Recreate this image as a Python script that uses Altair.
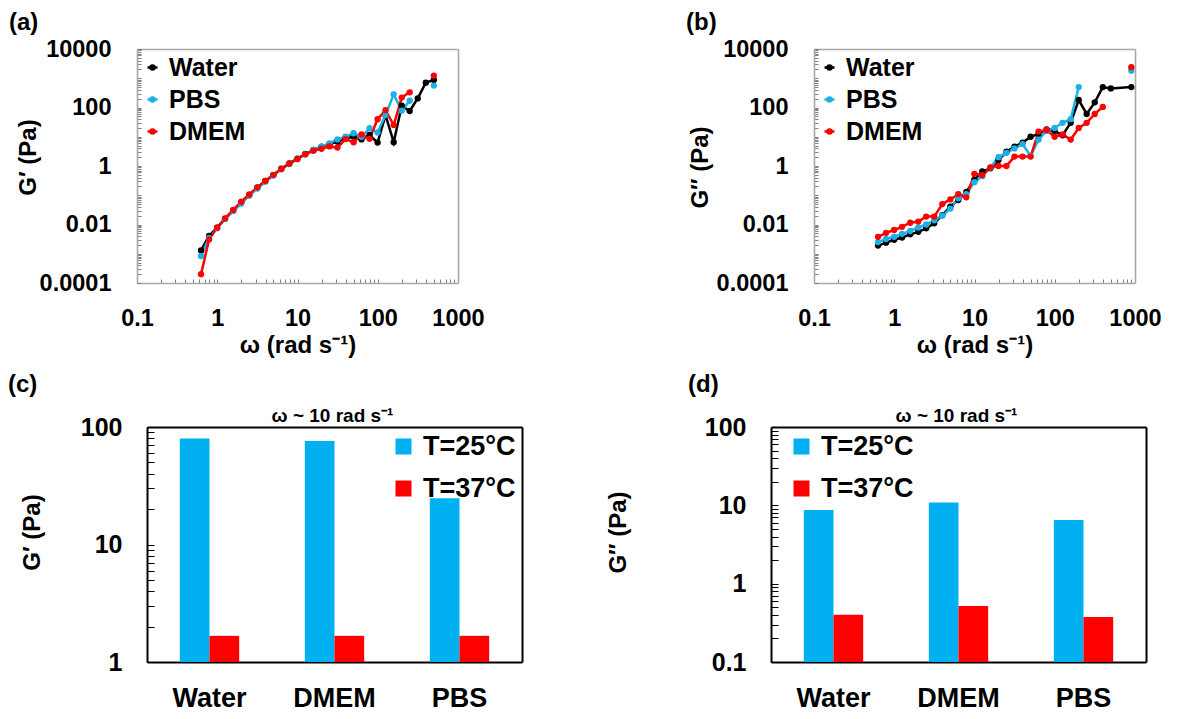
import altair as alt
import pandas as pd

FONT = "Liberation Sans"

# ---------------- data ----------------
omega = [0.628, 0.791, 0.996, 1.25, 1.58, 1.99, 2.50, 3.15, 3.97, 5.00,
         6.28, 7.91, 9.96, 12.5, 15.8, 19.9, 25.0, 31.5, 39.7, 50.0,
         62.8, 79.1, 99.6, 125, 158, 199, 250, 315, 397, 500]
omega_b = omega + [900]

samples = ["Water", "PBS", "DMEM"]
line_colors = ["#000000", "#1cb0e6", "#ff0000"]

# panel (a): G' (Pa)
a_water = [0.0013, 0.0041, 0.0078, 0.0155, 0.0295, 0.056, 0.10, 0.18, 0.31, 0.49,
           0.81, 1.23, 1.78, 2.57, 3.55, 4.57, 5.5, 6.8, 8.9, 10.0,
           8.1, 11.5, 6.3, 55, 6.5, 115, 76, 204, 708, 871]
a_pbs = [0.00083, 0.0035, 0.0074, 0.0155, 0.029, 0.052, 0.10, 0.17, 0.29, 0.47,
         0.78, 1.17, 1.74, 2.51, 3.55, 4.57, 5.9, 8.1, 10.0, 13.2,
         10.0, 19.5, 14.1, 55, 282, 78, 170, None, None, 562]
a_dmem = [0.0002, 0.0031, 0.0078, 0.0162, 0.0316, 0.060, 0.107, 0.186, 0.31, 0.50,
          0.79, 1.20, 1.74, 2.51, 3.31, 3.89, 4.68, 4.27, 8.3, 6.5,
          12.0, 8.5, 39.8, 81, 25, 219, 331, None, None, 1230]

# panel (b): G'' (Pa)
b_water = [0.0019, 0.0024, 0.0030, 0.0036, 0.0046, 0.0056, 0.0074, 0.011, 0.021, 0.041,
           0.069, 0.13, 0.33, 0.65, 0.83, 1.6, 3.1, 4.6, 6.3, 10.0,
           12.6, 17.8, 15.8, 11.2, 30, 180, 60, 150, 500, 450, 500]
b_pbs = [0.0025, 0.0032, 0.0038, 0.0048, 0.0060, 0.0079, 0.010, 0.014, 0.020, 0.035,
         0.079, 0.11, 0.28, 0.45, 0.89, 2.0, 2.8, 4.0, 5.6, 2.2,
         7.9, 15.8, 20, 30, 40, 500, None, None, None, None, 1800]
b_dmem = [0.0038, 0.0052, 0.0065, 0.0083, 0.0115, 0.0126, 0.0186, 0.0186, 0.050, 0.072,
          0.11, 0.085, 0.54, 0.49, 0.9, 1.0, 1.0, 2.1, 2.1, 2.1,
          15, 17, 10, 12, 8, 20, 30, 60, 105, None, 2400]

# panels (c) and (d): bars at omega ~ 10 rad/s
media = ["Water", "DMEM", "PBS"]
temps = ["T=25°C", "T=37°C"]
bar_colors = ["#00b0f0", "#ff0000"]
c_25 = [80, 76, 24.7]
c_37 = [1.67, 1.67, 1.67]
d_25 = [8.7, 10.9, 6.5]
d_37 = [0.40, 0.52, 0.375]


# ---------------- helpers ----------------
def log_ticks(k_lo, k_hi):
    vals = []
    for k in range(k_lo, k_hi):
        for m in range(1, 10):
            vals.append(m * 10.0 ** k)
    vals.append(10.0 ** k_hi)
    return vals


def label_expr(majors, labels):
    arr = "[" + ",".join(repr(v) for v in majors) + "]"
    lab = "[" + ",".join("'" + s + "'" for s in labels) + "]"
    return f"indexof({arr}, datum.value) >= 0 ? {lab}[indexof({arr}, datum.value)] : ''"


def text_layer(txt, x, y, size, align="left"):
    return alt.Chart(pd.DataFrame({"t": [txt]})).mark_text(
        font=FONT, fontSize=size, fontWeight="bold", align=align,
        baseline="middle", color="black"
    ).encode(text="t:N", x=alt.value(x), y=alt.value(y))


def frame_axis(orient, color, width):
    return alt.Axis(orient=orient, domain=True, domainColor=color, domainWidth=width,
                    domainOpacity=1, ticks=False, labels=False, grid=False, title=None)


def frame_child(xorient, yorient, color, width):
    # invisible helper layer whose only visible parts are axis domain lines (plot frame)
    return alt.Chart(pd.DataFrame({"u": [0, 1]})).mark_point(opacity=0).encode(
        x=alt.X("u:Q", axis=frame_axis(xorient, color, width)),
        y=alt.Y("u:Q", axis=frame_axis(yorient, color, width)),
    )


def framed(inner, color, width):
    return alt.layer(
        inner,
        frame_child("top", "right", color, width),
        frame_child("bottom", "left", color, width),
    ).resolve_scale(x="independent", y="independent")


def spacer(w, h):
    return alt.Chart(pd.DataFrame({"s": [0]})).mark_point(opacity=0).encode(
        x=alt.X("s:Q", axis=None), y=alt.Y("s:Q", axis=None)
    ).properties(width=w, height=h, view=alt.ViewBackground(strokeWidth=0))


W1, H1 = 321, 234


def sweep_panel(xs, series, ytitle, letter, title_x, title_y):
    rows = []
    for name, vals in zip(samples, series):
        for w, v in zip(xs, vals):
            rows.append({"omega": w, "G": v, "sample": name})
    df = pd.DataFrame(rows)

    x_major = [0.1, 1, 10, 100, 1000]
    y_major = [0.0001, 0.01, 1, 100, 10000]
    xaxis = alt.Axis(
        values=log_ticks(-1, 3), labelExpr=label_expr(x_major, ["0.1", "1", "10", "100", "1000"]),
        offset=-4, tickSize=4, tickColor="#808080", tickWidth=1, domain=False, grid=False,
        labelFont=FONT, labelFontSize=23.5, labelFontWeight="bold", labelColor="black",
        labelPadding=23, labelOverlap=False, labelFlush=False,
        title="ω (rad s⁻¹)", titleFont=FONT, titleFontSize=24, titleFontWeight="bold",
        titleColor="black", titleY=54, titleBaseline="top",
    )
    yaxis = alt.Axis(
        values=log_ticks(-4, 4), labelExpr=label_expr(y_major, ["0.0001", "0.01", "1", "100", "10000"]),
        offset=-4, tickSize=4, tickColor="#808080", tickWidth=1, domain=False, grid=False,
        labelFont=FONT, labelFontSize=23.5, labelFontWeight="bold", labelColor="black",
        labelPadding=26, labelOverlap=False, labelFlush=False,
        title=ytitle, titleFont=FONT, titleFontSize=24, titleFontWeight="bold",
        titleColor="black", titleX=title_x, titleY=title_y, titleBaseline="middle", titleAngle=270,
    )
    x = alt.X("omega:Q", scale=alt.Scale(type="log", domain=[0.1, 1000]), axis=xaxis)
    y = alt.Y("G:Q", scale=alt.Scale(type="log", domain=[0.0001, 10000]), axis=yaxis)
    cscale = alt.Scale(domain=samples, range=line_colors)
    legend = alt.Legend(
        orient="none", legendX=3, legendY=6, title=None, padding=0,
        symbolType="M-1,0H1M-0.4,0A0.4,0.4,0,1,1,0.4,0A0.4,0.4,0,1,1,-0.4,0",
        symbolSize=100, symbolStrokeWidth=2.5,
        labelFont=FONT, labelFontSize=25, labelFontWeight="bold", labelColor="black",
        labelOffset=4, rowPadding=6,
    )
    line = alt.Chart(df).mark_line(strokeWidth=2.5, invalid="break-paths-filter-domains").encode(
        x=x, y=y, color=alt.Color("sample:N", scale=cscale, legend=legend, sort=samples)
    )
    pts = alt.Chart(df.dropna()).mark_circle(size=40, opacity=1).encode(
        x=x, y=y, color=alt.Color("sample:N", scale=cscale, legend=None, sort=samples)
    )
    lab = text_layer(letter, -128, -26, 24)
    inner = alt.layer(line, pts, lab)
    return framed(inner, "#a8a8a8", 1.6).properties(width=W1, height=H1)


W2, H2 = 375, 235


def bar_panel(v25, v37, domain, majors, labels, ytitle, letter, title_x, title_y,
              leg_x, letter_x):
    rows = []
    for m, a, b in zip(media, v25, v37):
        rows.append({"medium": m, "T": temps[0], "G": a})
        rows.append({"medium": m, "T": temps[1], "G": b})
    df = pd.DataFrame(rows)
    yaxis = alt.Axis(
        values=[v for v in log_ticks(-1, 2) if domain[0] <= v <= domain[1]],
        labelExpr=label_expr(majors, labels),
        offset=-7, tickSize=7, tickColor="black", tickWidth=1, domain=False, grid=False,
        labelFont=FONT, labelFontSize=25, labelFontWeight="bold", labelColor="black",
        labelPadding=25, labelOverlap=False, labelFlush=False,
        title=ytitle, titleFont=FONT, titleFontSize=24, titleFontWeight="bold",
        titleColor="black", titleX=title_x, titleY=title_y, titleBaseline="middle", titleAngle=270,
    )
    xaxis = alt.Axis(
        title=None, labelAngle=0, ticks=False, domain=False, grid=False,
        labelFont=FONT, labelFontSize=27, labelFontWeight="bold", labelColor="black",
        labelPadding=23,
    )
    legend = alt.Legend(
        orient="none", legendX=leg_x, legendY=6, title=None, padding=0,
        symbolType="square", symbolSize=256, symbolStrokeWidth=0, symbolOpacity=1,
        labelFont=FONT, labelFontSize=27, labelFontWeight="bold", labelColor="black",
        labelOffset=6, rowPadding=14,
    )
    bars = alt.Chart(df).mark_bar().encode(
        x=alt.X("medium:N", sort=media, axis=xaxis,
                scale=alt.Scale(paddingInner=0.525, paddingOuter=0.2625)),
        xOffset=alt.XOffset("T:N", sort=temps),
        y=alt.Y("G:Q", scale=alt.Scale(type="log", domain=domain), axis=yaxis),
        y2=alt.datum(domain[0]),
        color=alt.Color("T:N", scale=alt.Scale(domain=temps, range=bar_colors),
                        legend=legend, sort=temps),
    )
    ttl = text_layer("ω ~ 10 rad s⁻¹", W2 / 2 - 2, -11, 19, align="center")
    lab = text_layer(letter, letter_x, -42, 24)
    inner = alt.layer(bars, ttl, lab)
    return framed(inner, "black", 2).properties(width=W2, height=H2)


pa = sweep_panel(omega, [a_water, a_pbs, a_dmem], "G′ (Pa)", "(a)", -113, 108)
pb = sweep_panel(omega_b, [b_water, b_pbs, b_dmem], "G′′ (Pa)", "(b)", -118, 118)
pc = bar_panel(c_25, c_37, [1, 100], [1, 10, 100], ["1", "10", "100"],
               "G′ (Pa)", "(c)", -122, 105, 243, -139)
pd_ = bar_panel(d_25, d_37, [0.1, 100], [0.1, 1, 10, 100], ["0.1", "1", "10", "100"],
                "G′′ (Pa)", "(d)", -160, 105, 17, -83)

row1 = alt.hconcat(spacer(129, H1), pa, spacer(356, H1), pb, spacing=0, bounds="flush"
                   ).resolve_scale(color="independent").resolve_legend(color="independent")
row2 = alt.hconcat(spacer(139, H2), pc, spacer(249, H2), pd_, spacing=0, bounds="flush"
                   ).resolve_scale(color="independent").resolve_legend(color="independent")

chart = alt.vconcat(row1, row2, spacing=16, bounds="full").resolve_scale(
    color="independent").resolve_legend(color="independent").properties(
    padding={"top": 3, "left": 0, "right": 0, "bottom": 0}
).configure_view(stroke=None)

chart.save("out.html", embed_options={"renderer": "svg", "actions": False})
